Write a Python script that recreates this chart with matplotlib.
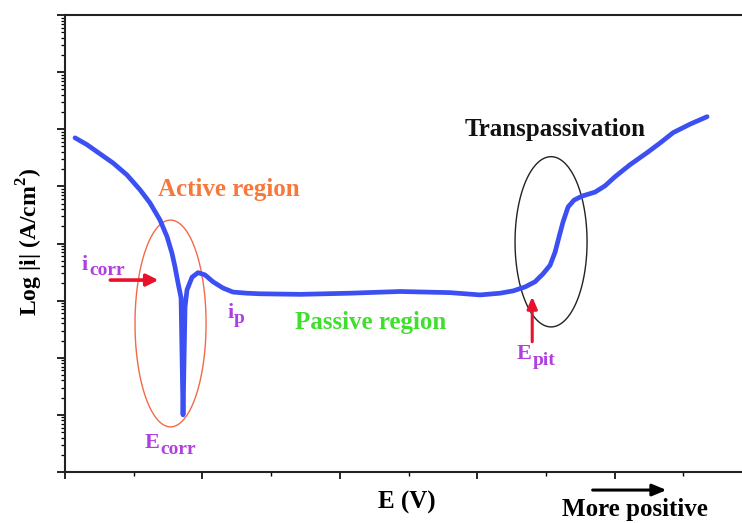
import numpy as np
from matplotlib import pyplot as plt
from matplotlib.patches import FancyArrowPatch

plt.rcParams["font.family"] = ["Liberation Serif", "DejaVu Serif"]
plt.rcParams["mathtext.fontset"] = "custom"
plt.rcParams["mathtext.rm"] = "Liberation Serif:bold"
plt.rcParams["mathtext.bf"] = "Liberation Serif:bold"

# potential (arbitrary units) and log10 current density
E = [0.146, 0.320, 0.509, 0.699, 0.902, 1.092, 1.237, 1.383, 1.485, 1.557,
     1.601, 1.645, 1.689, 1.718, 1.747, 1.776, 1.849, 1.936, 2.038, 2.154,
     2.300, 2.445, 2.649, 2.838, 3.421, 4.148, 4.876, 5.604, 6.041, 6.332,
     6.521, 6.696, 6.841, 6.958, 7.060, 7.133, 7.191, 7.249, 7.322, 7.409,
     7.525, 7.715, 7.860, 8.006, 8.224, 8.472, 8.661, 8.850, 9.098, 9.345]
log_i = [-2.15, -2.27, -2.43, -2.59, -2.80, -3.06, -3.29, -3.59, -3.88, -4.17,
         -4.41, -4.69, -4.95, -7.00, -5.11, -4.81, -4.59, -4.51, -4.55, -4.67,
         -4.78, -4.85, -4.87, -4.88, -4.89, -4.87, -4.84, -4.86, -4.90, -4.87,
         -4.83, -4.76, -4.67, -4.53, -4.38, -4.15, -3.88, -3.62, -3.36, -3.24,
         -3.17, -3.10, -2.99, -2.83, -2.62, -2.41, -2.24, -2.06, -1.91, -1.78]

# ellipses marking the regions: (centre E, centre log i, half width, half height in decades)
active_ellipse = (1.536, -5.40, 0.517, 1.81)
transpass_ellipse = (7.074, -3.97, 0.524, 1.49)

fig = plt.figure(figsize=(7.42, 5.23), dpi=100)
ax = fig.add_axes([0.0876, 0.0975, 0.926, 0.8738])

ax.plot(E, 10 ** np.array(log_i), color="#3c4ff2", lw=3.4,
        solid_capstyle="round", zorder=3)

t = np.linspace(0, 2 * np.pi, 300)
for (cx, cy, a, b), col in [(active_ellipse, "#f26a4a"), (transpass_ellipse, "#222222")]:
    ax.fill(cx + a * np.cos(t), 10 ** (cy + b * np.sin(t)), fill=False,
            edgecolor=col, lw=1.0, zorder=2)

ax.set_yscale("log")
ax.set_xlim(0, 10)
ax.set_ylim(1e-8, 1e0)
ax.set_xticks(np.arange(0, 11, 2))
ax.set_xticks(np.arange(1, 11, 2), minor=True)
ax.tick_params(axis="x", which="major", direction="out", length=5, width=1.2,
               labelbottom=False)
ax.tick_params(axis="x", which="minor", direction="out", length=3, width=1.0)
ax.tick_params(axis="y", which="major", direction="out", length=6, width=1.2,
               labelleft=False)
ax.tick_params(axis="y", which="minor", direction="out", length=3, width=0.9,
               labelleft=False)
ax.yaxis.set_minor_formatter(plt.NullFormatter())
ax.spines["right"].set_visible(False)
for s in ["left", "bottom", "top"]:
    ax.spines[s].set_linewidth(1.5)
    ax.spines[s].set_color("#222222")

# arrows
red = "#e8122c"
ax.annotate("", xy=(1.36, 10 ** -4.64), xytext=(0.66, 10 ** -4.64),
            arrowprops=dict(arrowstyle="-|>,head_length=0.7,head_width=0.35",
                            color=red, lw=2.6, shrinkA=0, shrinkB=0))
ax.annotate("", xy=(6.80, 10 ** -4.93), xytext=(6.80, 10 ** -5.72),
            arrowprops=dict(arrowstyle="-|>,head_length=0.7,head_width=0.3",
                            color=red, lw=2.2, shrinkA=0, shrinkB=0))

purple = "#b03fe0"


def sub_label(x, e, main, sub):
    m = ax.text(x, 10 ** e, main, color=purple, fontsize=16, fontweight="bold",
                ha="left", va="baseline")
    ax.annotate(sub, xy=(1.0, 0.0), xycoords=m, xytext=(0.5, -0.5),
                textcoords="offset points", color=purple, fontsize=14,
                fontweight="bold", ha="left", va="baseline")


sub_label(0.247, -4.46, "i", "corr")
sub_label(2.358, -5.30, "i", "p")
sub_label(1.165, -7.58, "E", "corr")
sub_label(6.579, -6.02, "E", "pit")

ax.text(2.387, 10 ** -3.06, "Active region", color="#f5793d", fontsize=18,
        fontweight="bold", ha="center", va="center")
ax.text(7.13, 10 ** -2.01, "Transpassivation", color="#111111", fontsize=18,
        fontweight="bold", ha="center", va="center")
ax.text(4.454, 10 ** -5.39, "Passive region", color="#3ee02c", fontsize=18,
        fontweight="bold", ha="center", va="center")

fig.text(0.040, 0.537, r"Log |i| (A/cm$^\mathbf{2}$)", rotation=90, fontsize=17,
         fontweight="bold", ha="center", va="center")
fig.text(0.5485, 0.040, "E (V)", fontsize=18, fontweight="bold",
         ha="center", va="center")
fig.text(0.856, 0.025, "More positive", fontsize=18, fontweight="bold",
         ha="center", va="center")
fig.patches.append(FancyArrowPatch((0.795, 0.063), (0.902, 0.063),
                                   transform=fig.transFigure, color="black",
                                   arrowstyle="-|>,head_length=0.6,head_width=0.25",
                                   lw=2.2, mutation_scale=14))

fig.savefig("out.png", dpi=100)
